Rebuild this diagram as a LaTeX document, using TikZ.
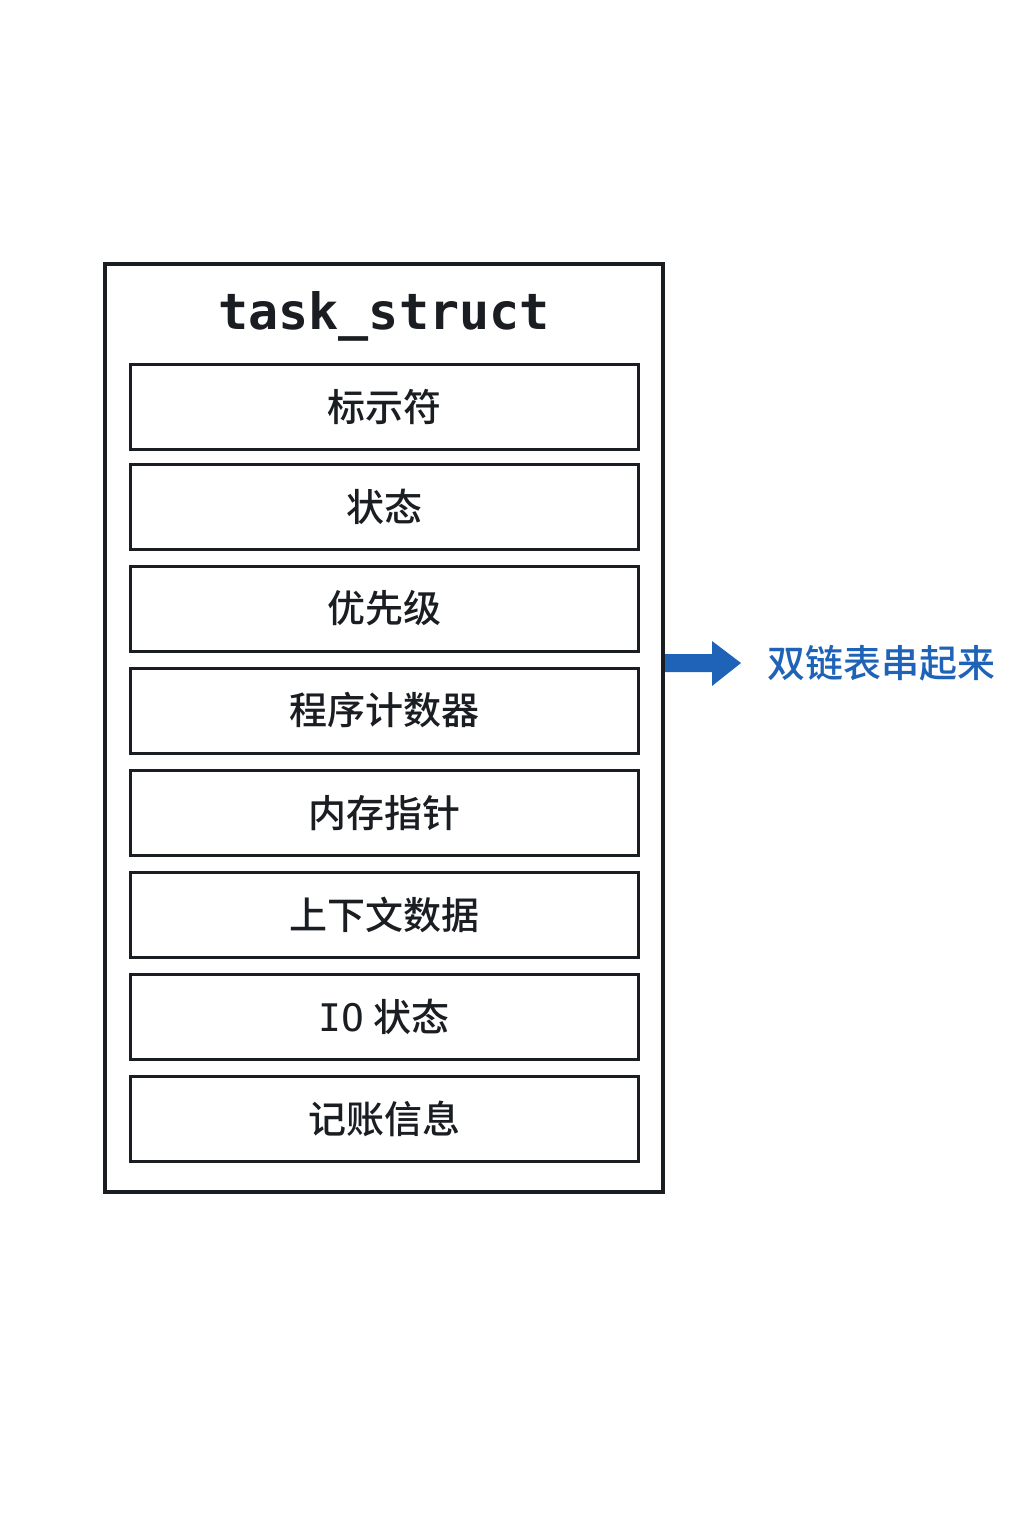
\documentclass[tikz,border=0pt]{standalone}
\usepackage{fontspec}
\newfontfamily\cjk{Noto Sans CJK SC Medium}
\newfontfamily\mono{DejaVu Sans Mono}
\definecolor{ink}{HTML}{1A1D21}
\definecolor{blu}{HTML}{1F63B8}
\begin{document}
\begin{tikzpicture}[x=1pt,y=-1pt,
  field/.style={draw=ink,line width=3pt,minimum width=508pt,minimum height=85pt,inner sep=0pt,font=\cjk\fontsize{38}{44}\selectfont,text=ink}]
\useasboundingbox[fill=white] (0,0) rectangle (1024,1536);
\node[draw=ink,line width=4pt,minimum width=558pt,minimum height=928pt,inner sep=0pt] (outer) at (384,728) {};
\node[font=\mono\bfseries\fontsize{50}{56}\selectfont,text=ink] (title) at (384,316) {task\_struct};
\node[field] (f1) at (384,407) {标示符};
\node[field] (f2) at (384,507) {状态};
\node[field] (f3) at (384,608.5) {优先级};
\node[field] (f4) at (384,710.5) {程序计数器};
\node[field] (f5) at (384,813) {内存指针};
\node[field] (f6) at (384,915) {上下文数据};
\node[field] (f7) at (384,1017) {{\mono IO} 状态};
\node[field] (f8) at (384,1119) {记账信息};
\node[anchor=west,font=\cjk\fontsize{38}{44}\selectfont,text=blu] (lbl) at (764,663) {双链表串起来};
\fill[blu] (665,654) -- (712,654) -- (712,641) -- (741,663) -- (712,686) -- (712,672) -- (665,672) -- cycle;
\end{tikzpicture}
\end{document}
